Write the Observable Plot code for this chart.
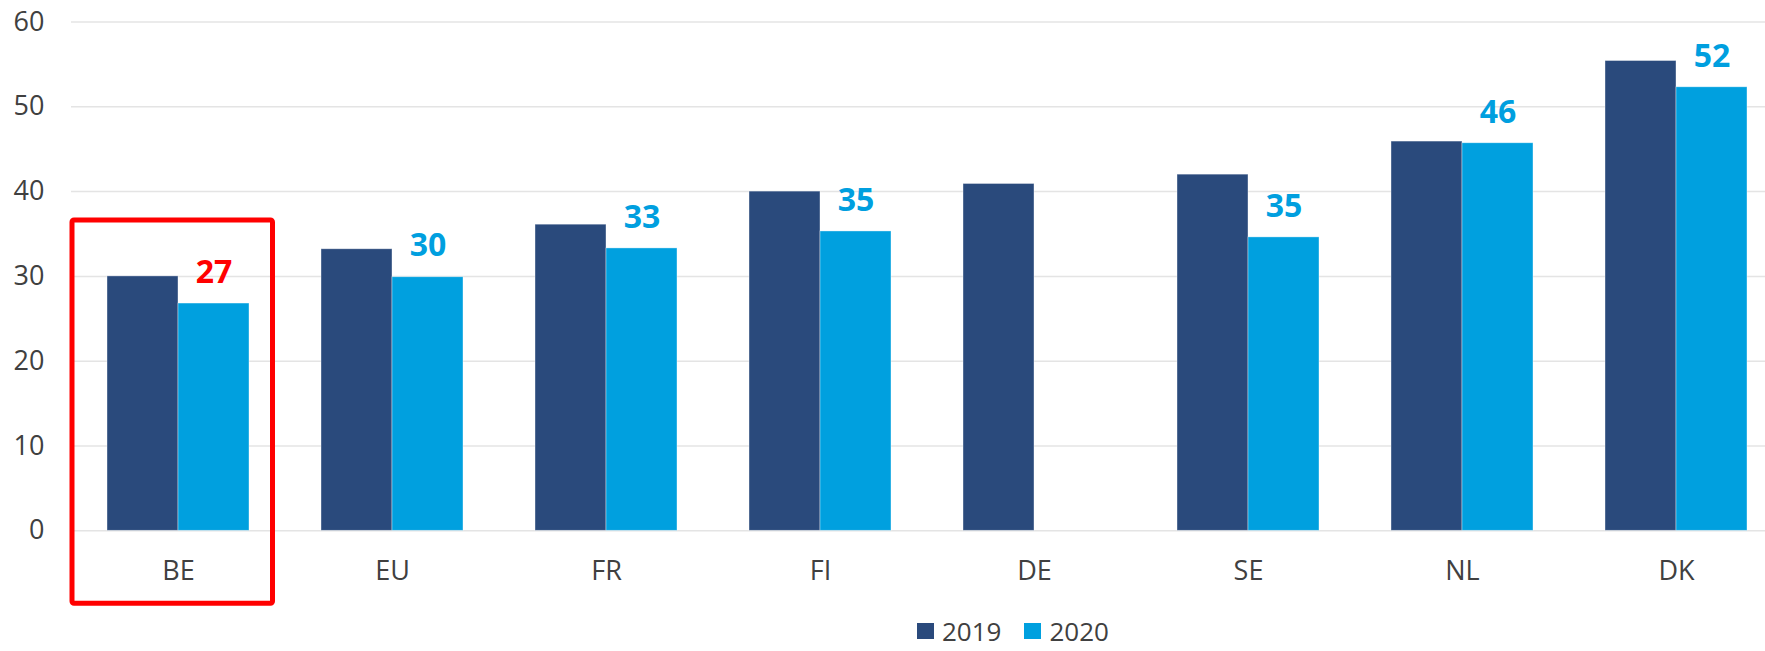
<!DOCTYPE html>
<html>
<head>
<meta charset="utf-8">
<script src="https://cdn.jsdelivr.net/npm/d3@7"></script>
<script src="https://cdn.jsdelivr.net/npm/@observablehq/plot@0.6"></script>
<style>
  html, body { margin: 0; padding: 0; background: #fff; }
  #wrap { position: relative; width: 1765px; height: 651px; overflow: hidden; font-family: "Open Sans", sans-serif; }
  #chart { position: absolute; left: 0; top: 0; width: 1765px; overflow: hidden; }
  #legend { position: absolute; left: 917px; top: 615px; height: 31px; display: flex; align-items: center; font-size: 26px; line-height: 1; color: #404040; }
  #legend .sw { width: 17px; height: 16px; margin-right: 8px; }
  #legend .item { display: flex; align-items: center; margin-right: 23px; }
</style>
</head>
<body>
<div id="wrap">
  <div id="chart"></div>
  <div id="legend"></div>
</div>
<script>
const countries = ["BE", "EU", "FR", "FI", "DE", "SE", "NL", "DK"];
const v2019 = [30.0, 33.2, 36.1, 40.0, 40.9, 42.0, 45.9, 55.4];
const v2020 = [26.8, 29.9, 33.3, 35.3, null, 34.6, 45.7, 52.3];
const years = ["2019", "2020"];
const yearColors = ["#2A4A7C", "#00A0DF"];
const yTicks = [0, 10, 20, 30, 40, 50, 60];
const highlight = "BE";
const highlightColor = "#FF0000";
const labelColor = "#009FDF";
// highlight box vertical extent (value units)
const boxY = [-8.6, 36.6];

const rows = [];
countries.forEach((c, i) => {
  if (v2019[i] != null) rows.push({country: c, year: "2019", value: v2019[i]});
  if (v2020[i] != null) rows.push({country: c, year: "2020", value: v2020[i]});
});
const labels = rows.filter(d => d.year === "2020");

const chart = Plot.plot({
  width: 1765,
  height: 612,
  marginLeft: 70,
  marginRight: -18,
  marginTop: 21.5,
  marginBottom: 81.7,
  style: {fontFamily: "Open Sans, sans-serif", fontSize: "27px", color: "#404040", background: "#fff"},
  fx: {domain: countries, padding: 0, label: null, tickSize: 0, tickPadding: 30, axis: "bottom"},
  x: {domain: years, axis: null, paddingInner: 0, paddingOuter: 0.497},
  y: {domain: [0, 60], ticks: yTicks, tickSize: 0, tickPadding: 27, label: null},
  color: {domain: years, range: yearColors},
  marks: [
    Plot.ruleY(yTicks, {stroke: "#e4e4e4", strokeWidth: 1.5}),
    Plot.barY(rows, {fx: "country", x: "year", y: "value", fill: "year", stroke: "#ffffff", strokeOpacity: 0.5, strokeWidth: 0.75}),
    Plot.text(labels, {
      fx: "country", x: "year", y: "value",
      text: d => d3.format(".0f")(d.value),
      dy: -31, fontSize: 32, fontWeight: "bold",
      fill: d => d.country === highlight ? highlightColor : labelColor
    }),
    Plot.barY([{country: highlight}], {
      fx: "country", y1: () => boxY[0], y2: () => boxY[1],
      fill: "none", stroke: highlightColor, strokeWidth: 5,
      insetLeft: 1, insetRight: 12.5, rx: 2
    })
  ]
});
document.getElementById("chart").appendChild(chart);

const legend = document.getElementById("legend");
years.forEach((y, i) => {
  const item = document.createElement("div");
  item.className = "item";
  const sw = document.createElement("div");
  sw.className = "sw";
  sw.style.background = yearColors[i];
  const t = document.createElement("span");
  t.textContent = y;
  item.appendChild(sw);
  item.appendChild(t);
  legend.appendChild(item);
});
</script>
</body>
</html>
